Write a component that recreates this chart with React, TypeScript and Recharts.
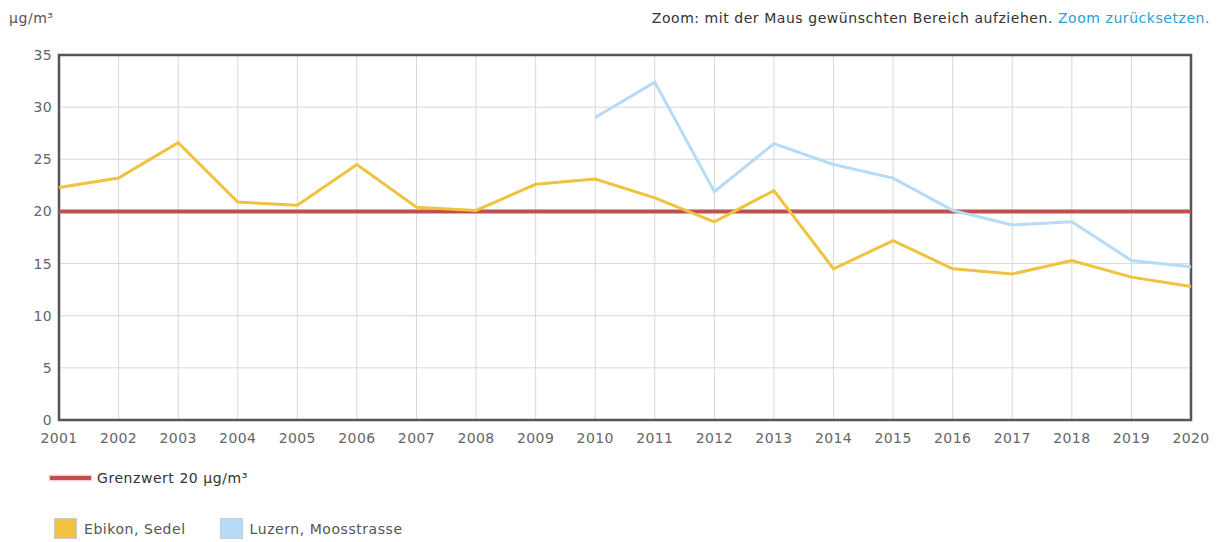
import React from "react";
import {
  LineChart,
  Line,
  XAxis,
  YAxis,
  CartesianGrid,
  ReferenceLine,
  ReferenceArea,
} from "recharts";

const years = [
  2001, 2002, 2003, 2004, 2005, 2006, 2007, 2008, 2009, 2010, 2011, 2012,
  2013, 2014, 2015, 2016, 2017, 2018, 2019, 2020,
];
const ebikon = [
  22.3, 23.2, 26.6, 20.9, 20.6, 24.5, 20.4, 20.1, 22.6, 23.1, 21.3, 19.0,
  22.0, 14.5, 17.2, 14.5, 14.0, 15.3, 13.7, 12.8,
];
const luzern = [
  null, null, null, null, null, null, null, null, null, 29.0, 32.4, 21.9,
  26.5, 24.5, 23.2, 20.1, 18.7, 19.0, 15.3, 14.7,
];
const yTicks = [0, 5, 10, 15, 20, 25, 30, 35];
const limit = 20;

const data = years.map((y, i) => ({
  year: y,
  ebikon: ebikon[i],
  luzern: luzern[i],
}));

const YELLOW = "#f0c240";
const BLUE = "#b5dbf7";
const RED = "#c0504d";
const TICK = { fill: "#666", fontSize: 14, fontFamily: "DejaVu Sans", letterSpacing: 0.4 };
const LS = 0.55;

export default function App() {
  return (
    <div
      style={{
        position: "absolute",
        left: 0,
        top: 0,
        width: 1222,
        height: 542,
        fontFamily: "DejaVu Sans, Verdana, sans-serif",
        background: "#fff",
      }}
    >
      <div style={{ position: "absolute", left: 9, top: 10, fontSize: 14, color: "#555", letterSpacing: LS }}>
        µg/m³
      </div>
      <div
        style={{
          position: "absolute",
          right: 12,
          top: 10,
          fontSize: 14,
          color: "#333",
          whiteSpace: "nowrap",
          letterSpacing: LS,
        }}
      >
        Zoom: mit der Maus gewünschten Bereich aufziehen.{" "}
        <span style={{ color: "#2a9fd6" }}>Zoom zurücksetzen.</span>
      </div>

      <LineChart
        width={1222}
        height={542}
        data={data}
        margin={{ top: 55, right: 31, left: 19, bottom: 92 }}
      >
        <CartesianGrid stroke="#d8d8d8" strokeWidth={1} />
        <XAxis
          dataKey="year"
          type="number"
          domain={[2001, 2020]}
          ticks={years}
          interval={0}
          tick={TICK}
          tickLine={false}
          axisLine={false}
          tickSize={0}
          tickMargin={13}
          height={30}
        />
        <YAxis
          type="number"
          domain={[0, 35]}
          ticks={yTicks}
          interval={0}
          tick={TICK}
          tickLine={false}
          axisLine={false}
          tickSize={0}
          tickMargin={7}
          width={40}
        />
        <ReferenceArea
          x1={2001}
          x2={2020}
          y1={0}
          y2={35}
          fill="none"
          stroke="#555"
          strokeWidth={2.5}
          ifOverflow="visible"
        />
        <ReferenceLine y={limit} stroke={RED} strokeWidth={4} />
        <Line
          dataKey="ebikon"
          stroke={YELLOW}
          strokeWidth={3}
          dot={false}
          activeDot={false}
          isAnimationActive={false}
        />
        <Line
          dataKey="luzern"
          stroke={BLUE}
          strokeWidth={3}
          dot={false}
          activeDot={false}
          isAnimationActive={false}
        />
      </LineChart>

      <div style={{ position: "absolute", left: 50, top: 470, display: "flex", alignItems: "center" }}>
        <div
          style={{
            width: 41,
            height: 4,
            background: RED,
            boxShadow: "0 0 2px 1px rgba(192,80,77,0.35)",
            marginRight: 6,
          }}
        />
        <span style={{ fontSize: 14, color: "#333", letterSpacing: LS }}>Grenzwert 20 µg/m³</span>
      </div>

      <div style={{ position: "absolute", left: 54, top: 518, display: "flex", alignItems: "center" }}>
        <div
          style={{
            width: 21,
            height: 19,
            background: YELLOW,
            border: "1px solid #ccc",
            marginRight: 7,
          }}
        />
        <span style={{ fontSize: 14, color: "#555", marginRight: 34, letterSpacing: LS }}>Ebikon, Sedel</span>
        <div
          style={{
            width: 21,
            height: 19,
            background: BLUE,
            border: "1px solid #ccc",
            marginRight: 7,
          }}
        />
        <span style={{ fontSize: 14, color: "#555", letterSpacing: LS }}>Luzern, Moosstrasse</span>
      </div>
    </div>
  );
}
